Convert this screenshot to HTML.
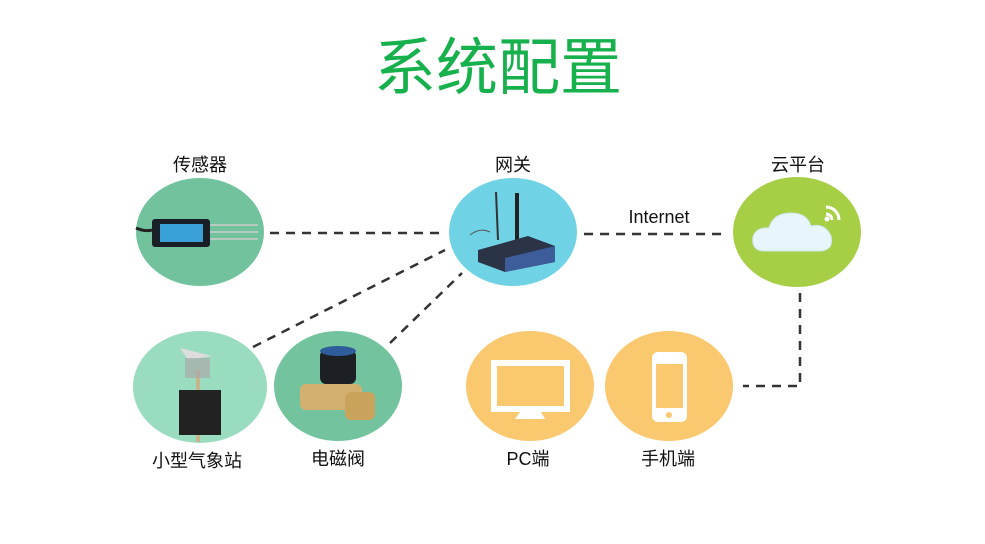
<!DOCTYPE html>
<html><head><meta charset="utf-8"><style>
body{margin:0;background:#fff;}
svg text{font-family:"Liberation Sans","Noto Sans CJK SC",sans-serif;}
</style></head><body>
<svg width="985" height="539" viewBox="0 0 985 539" xmlns="http://www.w3.org/2000/svg">
<rect width="985" height="539" fill="#fff"/>
<text x="498" y="89" font-size="62" fill="#16b04c" text-anchor="middle" font-family="Noto Sans CJK SC, sans-serif">系统配置</text>

<g stroke="#333" stroke-width="2.5" stroke-dasharray="9,7" fill="none">
<line x1="270" y1="233" x2="445" y2="233"/>
<line x1="253" y1="347" x2="445" y2="250"/>
<line x1="390" y1="343" x2="462" y2="273"/>
<line x1="584" y1="234" x2="727" y2="234"/>
<polyline points="800,293 800,386 743,386"/>
</g>

<ellipse cx="200" cy="232" rx="64" ry="54" fill="#72c29d"/>
<ellipse cx="513" cy="232" rx="64" ry="54" fill="#70d3e5"/>
<ellipse cx="797" cy="232" rx="64" ry="55" fill="#a7cf46"/>
<ellipse cx="200" cy="387" rx="67" ry="56" fill="#9adcbf"/>
<ellipse cx="338" cy="386" rx="64" ry="55" fill="#73c49e"/>
<ellipse cx="530" cy="386" rx="64" ry="55" fill="#fac96f"/>
<ellipse cx="669" cy="386" rx="64" ry="55" fill="#fac96f"/>

<!-- sensor -->
<path d="M136,228 Q145,232 152,230" stroke="#222" stroke-width="3" fill="none"/>
<rect x="152" y="219" width="58" height="28" rx="3" fill="#1a1e26"/>
<rect x="160" y="224" width="43" height="18" fill="#3aa0d8"/>
<g stroke="#ccc" stroke-width="1.5"><line x1="210" y1="225" x2="258" y2="225"/><line x1="210" y1="232" x2="258" y2="232"/><line x1="210" y1="239" x2="258" y2="239"/></g>

<!-- router -->
<line x1="496" y1="192" x2="498" y2="240" stroke="#333" stroke-width="2"/>
<line x1="517" y1="193" x2="517" y2="240" stroke="#222" stroke-width="4"/>
<path d="M478,250 L528,236 L555,246 L555,262 L505,272 L478,262 Z" fill="#2b3446"/>
<path d="M505,258 L555,246 L555,262 L505,272 Z" fill="#3c5c9a"/>
<path d="M470,235 q10,-8 20,-3" stroke="#555" fill="none"/>

<!-- cloud -->
<path d="M765,251 q-14,0 -12,-14 q3,-10 16,-9 q4,-15 22,-15 q16,0 20,13 q14,-3 20,10 q3,15 -12,15 Z" fill="#e8f5fc" stroke="#cfe6f4"/>
<g fill="none" stroke="#fff" stroke-width="3"><path d="M826,214 a6,6 0 0 1 6,6"/><path d="M826,207 a13,13 0 0 1 13,13"/></g>
<circle cx="827" cy="219" r="2.5" fill="#fff"/>

<!-- weather station -->
<rect x="196" y="370" width="4" height="72" fill="#c9b38a"/>
<rect x="179" y="390" width="42" height="45" fill="#222"/>
<path d="M180,348 L212,356 L188,360 Z" fill="#ddd"/>
<rect x="185" y="358" width="25" height="20" fill="#aaa" opacity="0.7"/>

<!-- valve -->
<rect x="300" y="384" width="62" height="26" rx="6" fill="#d4b070"/>
<rect x="345" y="392" width="30" height="28" rx="6" fill="#c9a25c"/>
<rect x="320" y="350" width="36" height="34" rx="6" fill="#1c1f24"/>
<ellipse cx="338" cy="351" rx="18" ry="5" fill="#2f5c9a"/>

<!-- PC -->
<rect x="494" y="363" width="73" height="46" fill="none" stroke="#fff" stroke-width="6"/>
<path d="M520,412 L541,412 L545,419 L515,419 Z" fill="#fff"/>
<!-- phone -->
<rect x="652" y="352" width="35" height="70" rx="6" fill="#fff"/>
<rect x="656" y="364" width="27" height="44" fill="#fac96f"/>
<circle cx="669" cy="415" r="3" fill="#fac96f"/>

<g font-size="18" fill="#111" text-anchor="middle">
<text x="200" y="171">传感器</text>
<text x="513" y="171">网关</text>
<text x="798" y="171">云平台</text>
<text x="197" y="467">小型气象站</text>
<text x="338" y="465">电磁阀</text>
<text x="528" y="465">PC端</text>
<text x="668" y="465">手机端</text>
<text x="659" y="223">Internet</text>
</g>
</svg>
</body></html>
